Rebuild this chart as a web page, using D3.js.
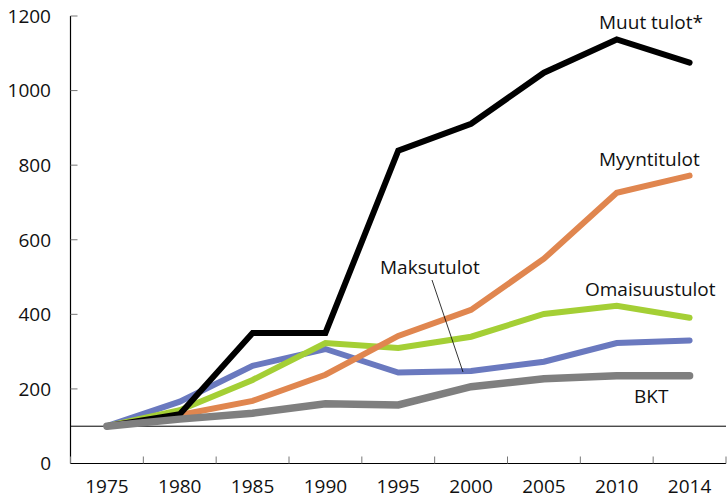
<!DOCTYPE html>
<meta charset="utf-8">
<script src="https://d3js.org/d3.v7.min.js"></script>
<body style="margin:0;background:#fff">
<div id="chart"></div>
<script>
// years on the x axis
var years = ["1975", "1980", "1985", "1990", "1995", "2000", "2005", "2010", "2014"];
var yTicks = [0, 200, 400, 600, 800, 1000, 1200];

// index, 1975 = 100
var maksutulot    = [100, 166, 262, 307, 244, 248, 273, 323, 330];
var omaisuustulot = [100, 143, 224, 323, 310, 340, 401, 423, 391];
var myyntitulot   = [100, 130, 168, 238, 342, 412, 549, 726, 772];
var muutTulot     = [100, 132, 350, 350, 839, 911, 1048, 1137, 1075];
var bkt           = [100, 119, 135, 160, 157, 206, 227, 235, 235];

var series = [
  {name: "Maksutulot", values: maksutulot, color: "#6a79bf", w: 6},
  {name: "Omaisuustulot", values: omaisuustulot, color: "#a4cf35", w: 6},
  {name: "Myyntitulot", values: myyntitulot, color: "#e0864f", w: 6},
  {name: "Muut tulot*", values: muutTulot, color: "#000000", w: 6},
  {name: "BKT", values: bkt, color: "#7f7f7f", w: 7.5}
];

var W = 727, H = 500;
var m = {left: 70.5, right: 726, top: 16, bottom: 463.5};
var font = "'Open Sans', sans-serif";
var fs = "19px";

var svg = d3.select("#chart").append("svg")
  .attr("width", W).attr("height", H);

var x = d3.scaleBand().domain(years).range([m.left, m.right]);
var y = d3.scaleLinear().domain([0, 1200]).range([m.bottom, m.top]);

// y axis
svg.append("line").attr("x1", m.left).attr("x2", m.left).attr("y1", m.top).attr("y2", m.bottom)
  .attr("stroke", "#000").attr("stroke-width", 1.2);
svg.selectAll(".ytick").data(yTicks).enter().append("line")
  .attr("x1", m.left).attr("x2", m.left + 7)
  .attr("y1", function(d) { return y(d); }).attr("y2", function(d) { return y(d); })
  .attr("stroke", "#777").attr("stroke-width", 1);
svg.selectAll(".ylab").data(yTicks).enter().append("text")
  .attr("x", 51).attr("y", function(d) { return y(d); })
  .attr("dy", "0.36em").attr("text-anchor", "end")
  .style("font-family", font).style("font-size", fs).attr("fill", "#111")
  .text(function(d) { return d; });

// x axis
svg.append("line").attr("x1", m.left).attr("x2", m.right).attr("y1", m.bottom).attr("y2", m.bottom)
  .attr("stroke", "#000").attr("stroke-width", 1.2);
var bounds = years.map(function(d) { return x(d); }).concat([m.right]);
svg.selectAll(".xtick").data(bounds).enter().append("line")
  .attr("x1", function(d) { return d; }).attr("x2", function(d) { return d; })
  .attr("y1", m.bottom).attr("y2", m.bottom - 7)
  .attr("stroke", "#777").attr("stroke-width", 1);
svg.selectAll(".xlab").data(years).enter().append("text")
  .attr("x", function(d) { return x(d) + x.bandwidth() / 2; }).attr("y", 493)
  .attr("text-anchor", "middle")
  .style("font-family", font).style("font-size", fs).attr("fill", "#111")
  .text(function(d) { return d; });

// reference line at 100
svg.append("line").attr("x1", m.left).attr("x2", m.right).attr("y1", y(100)).attr("y2", y(100))
  .attr("stroke", "#000").attr("stroke-width", 1);

var line = d3.line()
  .x(function(d, i) { return x(years[i]) + x.bandwidth() / 2; })
  .y(function(d) { return y(d); });

svg.selectAll(".series").data(series).enter().append("path")
  .attr("d", function(d) { return line(d.values); })
  .attr("fill", "none")
  .attr("stroke", function(d) { return d.color; })
  .attr("stroke-width", function(d) { return d.w; })
  .attr("stroke-linecap", "round")
  .attr("stroke-linejoin", "miter");

// labels
var labels = [
  {t: "Muut tulot*", x: 599, y: 29},
  {t: "Myyntitulot", x: 599, y: 166},
  {t: "Omaisuustulot", x: 585, y: 296},
  {t: "Maksutulot", x: 380, y: 274},
  {t: "BKT", x: 634, y: 403}
];
svg.selectAll(".lab").data(labels).enter().append("text")
  .attr("x", function(d) { return d.x; }).attr("y", function(d) { return d.y; })
  .style("font-family", font).style("font-size", fs).attr("fill", "#111")
  .text(function(d) { return d.t; });

// leader line for Maksutulot
svg.append("line").attr("x1", 432).attr("y1", 280).attr("x2", 463).attr("y2", 372)
  .attr("stroke", "#000").attr("stroke-width", 0.8);
</script>
</body>
